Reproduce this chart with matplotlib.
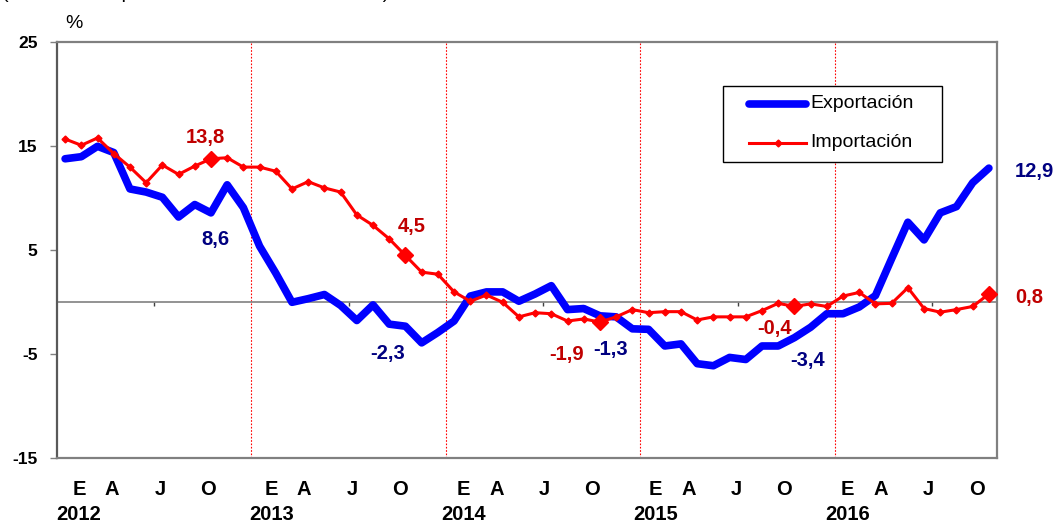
import numpy as np
import matplotlib
matplotlib.use('Agg')
import matplotlib.pyplot as plt
from matplotlib.patches import Rectangle

plt.rcParams['font.family'] = ['Liberation Sans', 'DejaVu Sans']

# monthly series, Jan 2012 - Oct 2016 (%)
exportacion = [13.8, 14.0, 15.0, 14.4, 10.9, 10.6, 10.1, 8.2, 9.4, 8.6, 11.3, 9.1,
               5.4, 2.8, 0.0, 0.35, 0.75, -0.3, -1.75, -0.25, -2.1, -2.3, -3.9, -2.9,
               -1.8, 0.6, 1.0, 1.0, 0.1, 0.8, 1.6, -0.7, -0.6, -1.3, -1.4, -2.55,
               -2.6, -4.2, -4.0, -5.9, -6.1, -5.3, -5.5, -4.2, -4.2, -3.4, -2.4, -1.1,
               -1.1, -0.45, 0.65, 4.2, 7.7, 6.0, 8.6, 9.2, 11.5, 12.9]
importacion = [15.7, 15.1, 15.8, 14.3, 13.0, 11.5, 13.2, 12.3, 13.1, 13.8, 13.9, 13.0,
               13.0, 12.6, 10.9, 11.6, 11.0, 10.6, 8.4, 7.4, 6.1, 4.5, 2.9, 2.7,
               1.0, 0.1, 0.7, 0.0, -1.4, -1.0, -1.1, -1.8, -1.6, -1.9, -1.4, -0.7,
               -1.0, -0.9, -0.9, -1.7, -1.4, -1.4, -1.4, -0.8, -0.1, -0.4, -0.15, -0.4,
               0.6, 0.95, -0.15, -0.1, 1.4, -0.6, -0.95, -0.7, -0.4, 0.8]

years = [2012, 2013, 2014, 2015, 2016]
month_letters = ['E', 'A', 'J', 'O']
month_index = [0, 3, 6, 9]
yticks = [-15, -5, 5, 15, 25]

azul = '#0000ff'
rojo = '#ff0000'
azul_txt = '#000080'
rojo_txt = '#c00000'
gris = '#808080'

x = np.arange(len(exportacion))
imp = np.array(importacion)
exp_ = np.array(exportacion)

fig = plt.figure(figsize=(10.57, 5.25), dpi=100)
ax = fig.add_axes([57/1057, 66.7/525, 940/1057, 416/525])

ax.plot(x, exp_, color=azul, lw=5.5, solid_joinstyle='round',
        solid_capstyle='round', zorder=3)
ax.plot(x, imp, color=rojo, lw=2.2, marker='D', ms=3.5, zorder=4)

# october points highlighted
octs = x[9::12]
ax.plot(octs, imp[octs], ls='none', marker='D', ms=8.5, color=rojo, zorder=5)

ax.axhline(0, color=gris, lw=1.2, zorder=2)
for k in range(1, len(years)):
    ax.axvline(12*k - 0.5, color=rojo, lw=0.8, ls=(0, (1.5, 1.5)), zorder=1)

ax.set_xlim(-0.5, len(x) - 0.5)
ax.set_ylim(-15, 25)
ax.set_yticks(yticks)
ax.set_yticklabels([str(v) for v in yticks], fontsize=12.5, fontweight='bold')
ax.tick_params(axis='y', direction='out', length=5, width=1, color=gris, pad=9)
ax.tick_params(axis='x', bottom=False, labelbottom=False)
for s in ax.spines.values():
    s.set_color(gris)
    s.set_linewidth(1.6)
ax.spines['left'].set_color('#595959')

# small ticks on the zero line, mid-year
sec = ax.secondary_xaxis(15/40)
sec.set_xticks(np.arange(5.5, len(x), 12))
sec.set_xticklabels([])
sec.tick_params(direction='out', length=3, width=1, color='#404040')
sec.spines['bottom'].set_visible(False)
sec.spines['top'].set_visible(False)

# data labels (value at each october)
off_exp = [(4, -27), (-17.5, -27), (10.5, -34), (13.4, -23), (45, -3)]
off_imp = [(-6, 21.5), (6.5, 29), (-33, -32), (-19.6, -21.6), (40, -3.6)]
for i, o in zip(octs, off_exp):
    ax.annotate(f"{exp_[i]:.1f}".replace('.', ','), (i, exp_[i]), xytext=o,
                textcoords='offset pixels', ha='center', va='center',
                fontsize=14.5, fontweight='bold', color=azul_txt,
                annotation_clip=False)
for i, o in zip(octs, off_imp):
    ax.annotate(f"{imp[i]:.1f}".replace('.', ','), (i, imp[i]), xytext=o,
                textcoords='offset pixels', ha='center', va='center',
                fontsize=14.5, fontweight='bold', color=rojo_txt,
                annotation_clip=False)

# month / year labels
tr = ax.get_xaxis_transform()
for k, yr in enumerate(years):
    for letra, m in zip(month_letters, month_index):
        idx = 12*k + m
        if idx >= len(x):
            continue
        xp = idx*0.9877 + (0.86 if m == 0 else -0.06)
        ax.text(xp, -0.074, letra, transform=tr, ha='center', va='center',
                fontsize=14.5, fontweight='bold')
    ax.text(12*k*0.9877 + 0.86, -0.113, str(yr), transform=tr, ha='center',
            va='top', fontsize=14.5, fontweight='bold')

# legend box
ax.add_patch(Rectangle((0.708, 0.713), 0.233, 0.182, transform=ax.transAxes,
                       facecolor='white', edgecolor='black', lw=1, zorder=6))
ax.plot([0.736, 0.797], [0.852, 0.852], transform=ax.transAxes, color=azul,
        lw=5.5, solid_capstyle='round', zorder=7)
ax.plot([0.736, 0.797], [0.759, 0.759], transform=ax.transAxes, color=rojo,
        lw=2.2, zorder=7)
ax.plot([0.7665], [0.759], transform=ax.transAxes, color=rojo, marker='D',
        ms=3.5, zorder=7)
ax.text(0.801, 0.852, 'Exportación', transform=ax.transAxes, va='center',
        fontsize=14, zorder=8)
ax.text(0.801, 0.759, 'Importación', transform=ax.transAxes, va='center',
        fontsize=14, zorder=8)

fig.text(73.5/1057, 1 - 23/525, '%', ha='center', va='center', fontsize=14)
fig.text(2/1057, 1 + 2/525, '(Variación en promedio móvil de tres meses)',
         ha='left', va='baseline', fontsize=14)

fig.savefig('out.png', dpi=100)
